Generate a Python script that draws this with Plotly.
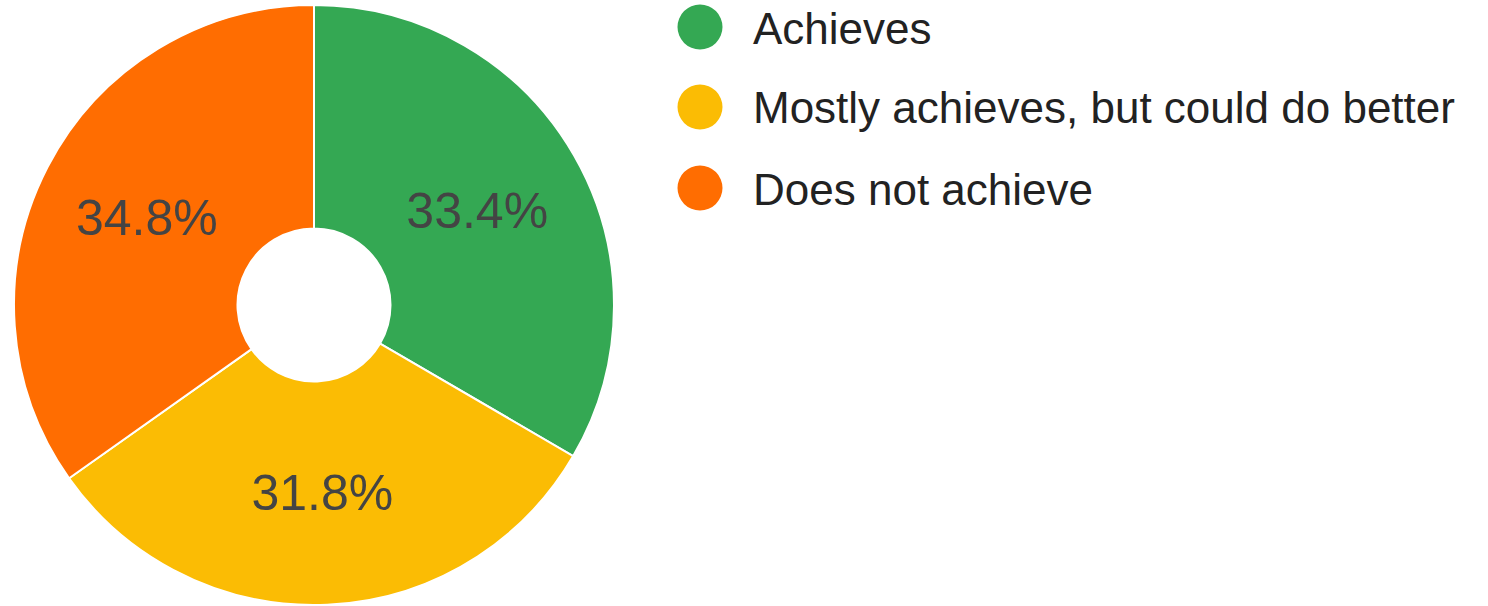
import plotly.graph_objects as go

categories = ["Achieves", "Mostly achieves, but could do better", "Does not achieve"]
values = [33.4, 31.8, 34.8]
colors = ["#34A853", "#FBBC04", "#FF6D01"]

W, H = 1488, 606
ML, MR, MT, MB = 0, 0, 5, 1
PW, PH = W - ML - MR, H - MT - MB


def px_x(p):
    return (p - ML) / PW


def px_y(p):
    return 1 - (p - MT) / PH


R = PH / 2
CX = 314

fig = go.Figure()
fig.add_trace(go.Pie(
    labels=categories,
    values=values,
    marker=dict(colors=colors, line=dict(color="white", width=2)),
    hole=0.255,
    sort=False,
    direction="clockwise",
    rotation=0,
    texttemplate="%{percent:.1%}",
    textposition="inside",
    insidetextorientation="horizontal",
    textfont=dict(family="Liberation Sans, Arial, sans-serif", size=50, color="#444444"),
    domain=dict(x=[px_x(CX - R), px_x(CX + R)], y=[0, 1]),
    showlegend=False,
    hoverinfo="label+percent",
))

# custom legend with large circular markers
legend_y = [27, 107, 188]
for cat, col, ly in zip(categories, colors, legend_y):
    fig.add_shape(
        type="circle", xref="paper", yref="paper",
        xsizemode="pixel", ysizemode="pixel",
        xanchor=px_x(700), yanchor=px_y(ly),
        x0=-22.5, x1=22.5, y0=-22.5, y1=22.5,
        fillcolor=col, line=dict(width=0),
    )
    fig.add_annotation(
        x=px_x(751), y=px_y(ly + 1), xref="paper", yref="paper",
        text=cat, showarrow=False, xanchor="left", yanchor="middle",
        font=dict(family="Liberation Sans, Arial, sans-serif", size=44, color="#222222"),
    )

fig.update_layout(
    width=W, height=H,
    margin=dict(l=ML, r=MR, t=MT, b=MB),
    paper_bgcolor="white",
    plot_bgcolor="white",
)

fig.write_html(
    "out.html",
    config={"displayModeBar": False},
    post_script="document.body.style.margin='0';",
)
